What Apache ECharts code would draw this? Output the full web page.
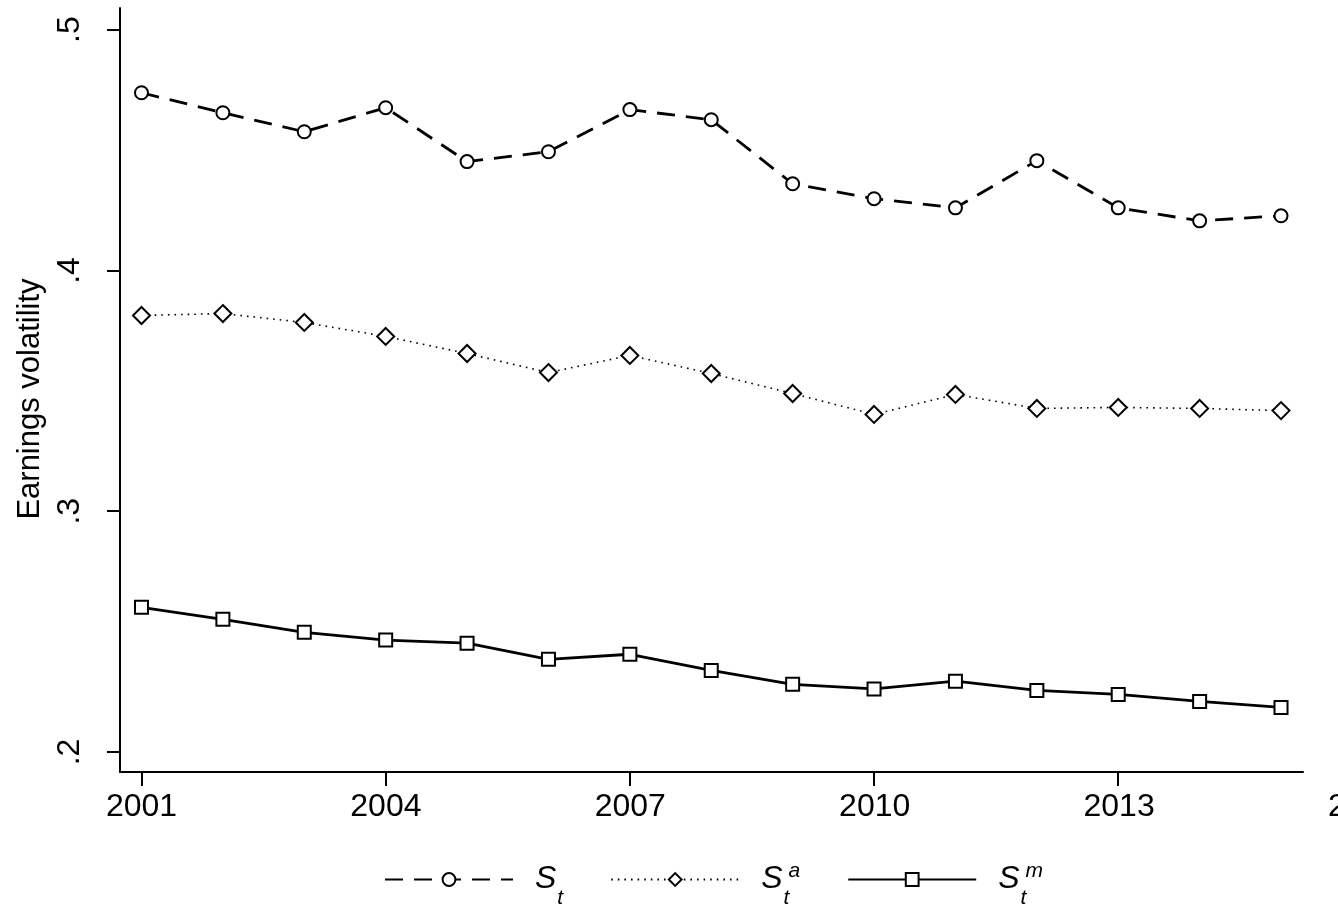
<!DOCTYPE html>
<html>
<head>
<meta charset="utf-8">
<script src="https://cdn.jsdelivr.net/npm/echarts@6/dist/echarts.min.js"></script>
<style>
  html, body { margin: 0; padding: 0; background: #fff; }
  #container { width: 1338px; height: 909px; }
</style>
</head>
<body>
<div id="container"></div>
<script>
var years = [2001, 2002, 2003, 2004, 2005, 2006, 2007, 2008, 2009, 2010, 2011, 2012, 2013, 2014, 2015];
var sTotal = [0.4738, 0.4655, 0.4576, 0.4676, 0.4452, 0.4493, 0.4668, 0.4626, 0.4360, 0.4298, 0.4260, 0.4456, 0.4260, 0.4206, 0.4227];
var sA = [0.3813, 0.3821, 0.3784, 0.3726, 0.3655, 0.3576, 0.3647, 0.3572, 0.3489, 0.3402, 0.3485, 0.3427, 0.3431, 0.3427, 0.3418];
var sM = [0.2601, 0.2551, 0.2497, 0.2465, 0.2452, 0.2385, 0.2406, 0.2339, 0.2281, 0.2262, 0.2294, 0.2256, 0.2239, 0.2210, 0.2185];
var yTicks = [0.2, 0.3, 0.4, 0.5];
var xTicks = [2001, 2004, 2007, 2010, 2013];
var xLabels = [2001, 2004, 2007, 2010, 2013, 2016];

var FONT = 'Liberation Sans, Arial, sans-serif';

function pairs(vals) {
    var out = [];
    for (var i = 0; i < years.length; i++) {
        out.push([years[i], vals[i]]);
    }
    return out;
}

var dom = document.getElementById('container');
var myChart = echarts.init(dom);

// S with sub/superscript t, a, m
var labelRich = {
    s: { fontFamily: FONT, fontStyle: 'italic', fontSize: 32, color: '#000', padding: [0, 0, 0, 17] },
    sub: { fontFamily: FONT, fontStyle: 'italic', fontSize: 21, color: '#000', verticalAlign: 'bottom', padding: [38, 0, 0, 1] },
    subz: { fontFamily: FONT, fontStyle: 'italic', fontSize: 21, color: '#000', verticalAlign: 'bottom', width: 0, padding: [38, 0, 0, 1] },
    sup: { fontFamily: FONT, fontStyle: 'italic', fontSize: 21, color: '#000', verticalAlign: 'top', padding: [11, 0, 0, 5] }
};

var option = {
    animation: false,
    backgroundColor: '#fff',
    grid: [
        { left: 120, top: 8, right: 35, bottom: 137, outerBoundsMode: 'none', containLabel: false },
        { left: 141.5, top: 8, width: 1222, bottom: 137, outerBoundsMode: 'none', containLabel: false }
    ],
    xAxis: [{
        type: 'value',
        gridIndex: 0,
        min: 2000.736,
        max: 2015.27,
        axisLine: { lineStyle: { color: '#000', width: 2 } },
        axisTick: { show: true, length: 14, customValues: xTicks, lineStyle: { color: '#000', width: 2 } },
        axisLabel: { show: false },
        splitLine: { show: false }
    }, {
        type: 'value',
        gridIndex: 1,
        min: 2001,
        max: 2016,
        axisLine: { show: false },
        axisTick: { show: false },
        axisLabel: {
            customValues: xLabels,
            margin: 19,
            fontSize: 32,
            fontFamily: FONT,
            color: '#000',
            formatter: function (v) { return String(v); }
        },
        splitLine: { show: false }
    }],
    yAxis: [{
        type: 'value',
        gridIndex: 0,
        min: 0.1917,
        max: 0.509,
        name: 'Earnings volatility',
        nameLocation: 'middle',
        nameRotate: 90,
        nameGap: 74,
        nameTextStyle: { fontSize: 31, fontFamily: FONT, color: '#000', padding: [0, 18, 0, 0] },
        axisLine: { show: true, lineStyle: { color: '#000', width: 2 } },
        axisTick: { show: true, length: 13, customValues: yTicks, lineStyle: { color: '#000', width: 2 } },
        axisLabel: {
            customValues: yTicks,
            rotate: 90,
            margin: 34,
            fontSize: 32,
            fontFamily: FONT,
            color: '#000',
            formatter: function (v) {
                return v.toFixed(1).replace('0.', '.');
            }
        },
        splitLine: { show: false }
    }, {
        type: 'value',
        gridIndex: 1,
        min: 0,
        max: 1,
        show: false
    }],
    legend: {
        top: 861,
        left: 384,
        padding: 0,
        itemWidth: 128,
        itemHeight: 16,
        itemGap: 47,
        data: ['St', 'Sa', 'Sm'],
        formatter: function (name) {
            if (name === 'St') return '{s|S}{sub|t}';
            if (name === 'Sa') return '{s|S}{subz|t}{sup|a}';
            return '{s|S}{subz|t}{sup|m}';
        },
        textStyle: { rich: labelRich }
    },
    series: [{
        name: 'St',
        type: 'line',
        xAxisIndex: 0,
        yAxisIndex: 0,
        data: pairs(sTotal),
        symbol: 'emptyCircle',
        symbolSize: 13,
        lineStyle: { color: '#000', width: 2.8, type: [18, 11] },
        itemStyle: { color: '#000', borderColor: '#000', borderWidth: 2.6 }
    }, {
        name: 'Sa',
        type: 'line',
        xAxisIndex: 0,
        yAxisIndex: 0,
        data: pairs(sA),
        symbol: 'emptyDiamond',
        symbolSize: 17,
        lineStyle: { color: '#000', width: 1.6, type: [1.6, 5] },
        itemStyle: { color: '#000', borderColor: '#000', borderWidth: 2.6 }
    }, {
        name: 'Sm',
        type: 'line',
        xAxisIndex: 0,
        yAxisIndex: 0,
        data: pairs(sM),
        symbol: 'emptyRect',
        symbolSize: 13,
        lineStyle: { color: '#000', width: 2.8 },
        itemStyle: { color: '#000', borderColor: '#000', borderWidth: 2.6 }
    }]
};

myChart.setOption(option);
</script>
</body>
</html>
